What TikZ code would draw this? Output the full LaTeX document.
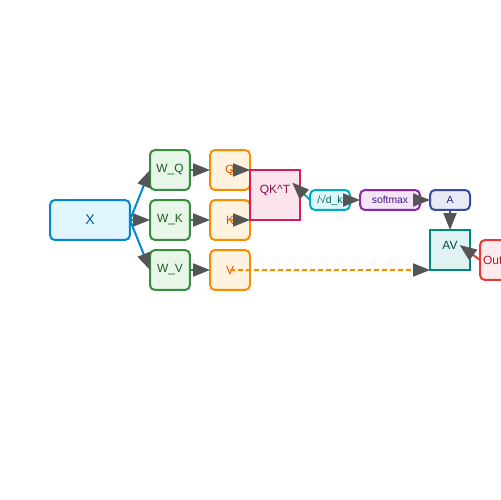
\documentclass[tikz,border=0pt]{standalone}
\usepackage{fontspec}
\setmainfont{Liberation Sans}
\usetikzlibrary{arrows.meta}
\definecolor{xline}{HTML}{0288D1}\definecolor{xfill}{HTML}{E1F5FE}\definecolor{xtext}{HTML}{01579B}
\definecolor{wline}{HTML}{388E3C}\definecolor{wfill}{HTML}{E8F5E9}\definecolor{wtext}{HTML}{1B5E20}
\definecolor{qline}{HTML}{FB8C00}\definecolor{qfill}{HTML}{FFF3E0}\definecolor{qtext}{HTML}{E65100}
\definecolor{kline}{HTML}{D81B60}\definecolor{kfill}{HTML}{FCE4EC}\definecolor{ktext}{HTML}{880E4F}
\definecolor{sline}{HTML}{00ACC1}\definecolor{sfill}{HTML}{E0F7FA}\definecolor{stext}{HTML}{006064}
\definecolor{mline}{HTML}{8E24AA}\definecolor{mfill}{HTML}{F3E5F5}\definecolor{mtext}{HTML}{4A148C}
\definecolor{aline}{HTML}{3949AB}\definecolor{afill}{HTML}{E8EAF6}\definecolor{atext}{HTML}{1A237E}
\definecolor{vline}{HTML}{00897B}\definecolor{vfill}{HTML}{E0F2F1}\definecolor{vtext}{HTML}{004D40}
\definecolor{oline}{HTML}{E53935}\definecolor{ofill}{HTML}{FFEBEE}\definecolor{otext}{HTML}{B71C1C}
\definecolor{tipgray}{HTML}{555555}
\tikzset{
  box/.style={draw, rounded corners=0.1cm, line width=0.04cm, inner sep=0pt, outer sep=0pt,
    minimum width=0.8cm, minimum height=0.8cm, font=\fontsize{6.8}{8}\selectfont},
  flatbox/.style={box, sharp corners},
  smallbox/.style={box, minimum height=0.4cm, font=\fontsize{5.9}{7}\selectfont},
  txt/.style={inner sep=1pt, font=\fontsize{6.8}{8}\selectfont},
  arr/.style={line width=0.04cm, -{Triangle[length=0.34cm,width=0.26cm,color=tipgray]}}
}
\begin{document}
\begin{tikzpicture}[x=0.02cm,y=-0.02cm]
\useasboundingbox (0,0) rectangle (500,500);
% input and weights
\node[box, draw=xline, fill=xfill, text=xtext, minimum width=1.6cm, font=\fontsize{8}{9}\selectfont] (x) at (90,220) {X};
\foreach \n/\y in {Q/170,K/220,V/270}{
  \node[box, draw=wline, fill=wfill, text=wtext] (w\n) at (170,\y) {W\_\n};
  \node[box, draw=qline, fill=qfill] (\n) at (230,\y) {};
  \node[txt, text=qtext] (\n l) at (230,\y) {\n};
}
% scores
\node[flatbox, draw=kline, fill=kfill, minimum width=1cm, minimum height=1cm] (qkt) at (275,195) {};
\node[txt, text=ktext] (qktl) at (275,190) {QK\^{}T};
\node[smallbox, draw=sline, fill=sfill, text=stext] (scale) at (330,200) {/√d\_k};
\node[smallbox, draw=mline, fill=mfill, text=mtext, minimum width=1.2cm] (soft) at (390,200) {softmax};
\node[smallbox, draw=aline, fill=afill, text=atext] (a) at (450,200) {A};
\node[flatbox, draw=vline, fill=vfill] (av) at (450,250) {};
\node[txt, text=vtext] (avl) at (450,245) {AV};
\node[box, draw=oline, fill=ofill] (out) at (500,260) {};
\node[txt, text=otext, anchor=west] (outl) at (481,260) {Out};
% connectors
\foreach \n in {Q,K,V}{
  \draw[arr, xline] (x.east) -- (w\n.west);
  \draw[arr, wline] (w\n.east) -- (\n.west);
}
\draw[arr, qline] (Q.center) -- (qkt.north west);
\draw[arr, qline] (K.center) -- (qkt.south west);
\draw[arr, qline, dashed, dash pattern=on 0.1cm off 0.06cm] (V.center) -- (av.south west);
\draw[arr, sline] (scale.west) -- (qktl.north east);
\draw[arr, sline] (scale.east) -- (soft.west);
\draw[arr, mline] (soft.east) -- (a.west);
\draw[arr, aline] (a.south) -- (av.north);
\draw[arr, oline] (out.west) -- (avl.east);
\end{tikzpicture}
\end{document}
